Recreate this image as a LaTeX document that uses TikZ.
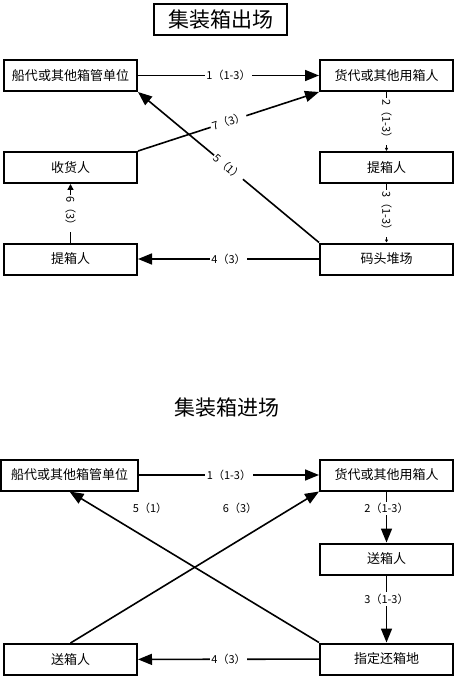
\documentclass[tikz,border=0pt]{standalone}
\usepackage{fontspec}
\setmainfont{Noto Sans CJK SC}
\usetikzlibrary{arrows.meta}

\begin{document}
\begin{tikzpicture}[x=1pt,y=-1pt,
  box/.style={rectangle, draw, line width=2pt,
              minimum width=133pt, minimum height=31pt,
              inner sep=0pt, font=\fontsize{13}{13}\selectfont},
  lbl/.style={fill=white, inner sep=1.5pt, font=\fontsize{11}{11}\selectfont},
  flow/.style={line width=1.6pt, -{Triangle[length=14pt,width=11pt]}},
  thinflow/.style={line width=0.8pt, -{Triangle[length=3pt,width=3pt]}}]
\useasboundingbox (0,0) rectangle (453,676);
\def\lx{70.5}
\def\rx{386.5}

% container leaving the yard
\node[box, font=\fontsize{21}{21}\selectfont] (title1) at (220.5,19.5) {集装箱出场};

\node[box] (ship1) at (\lx,75.5) {船代或其他箱管单位};
\node[box] (fwd1) at (\rx,75.5) {货代或其他用箱人};
\node[box] (recv1) at (\lx,167.5) {收货人};
\node[box] (pickR1) at (\rx,167.5) {提箱人};
\node[box] (pickL1) at (\lx,259) {提箱人};
\node[box] (yard1) at (\rx,259) {码头堆场};

\draw[flow] (ship1) -- node[lbl] {1（1-3）} (fwd1);
\draw[thinflow] (fwd1) -- node[lbl, sloped] {2（1-3）} (pickR1);
\draw[thinflow] (pickR1) -- node[lbl, sloped] {3（1-3）} (yard1);
\draw[flow] (yard1) -- node[lbl] {4（3）} (pickL1);
\draw[flow] (yard1.north west) -- node[lbl, sloped] {5（1）} (ship1.south east);
\draw[line width=1.6pt, -{Triangle[length=6pt,width=6pt]}] (pickL1) -- node[lbl, rotate=-90] {6（3）} (recv1);
\draw[flow] (recv1.north east) -- node[lbl, sloped] {7（3）} (fwd1.south west);

% container entering the yard
\node[font=\fontsize{21}{21}\selectfont] (title2) at (227,408) {集装箱进场};

\node[box, minimum width=137pt] (ship2) at (69.5,475) {船代或其他箱管单位};
\node[box] (fwd2) at (\rx,475) {货代或其他用箱人};
\node[box] (sendR2) at (\rx,559) {送箱人};
\node[box] (sendL2) at (\lx,659.5) {送箱人};
\node[box] (dest2) at (\rx,659) {指定还箱地};

\draw[flow] (ship2) -- node[lbl] {1（1-3）} (fwd2);
\draw[flow] (fwd2) -- node[lbl, pos=0.33] {2（1-3）} (sendR2);
\draw[flow] (sendR2) -- node[lbl, pos=0.35] {3（1-3）} (dest2);
\draw[flow] (dest2) -- node[lbl] {4（3）} (sendL2);
\draw[flow] (dest2.north west) -- (ship2.south);
\draw[flow] (sendL2.north) -- (fwd2.south west);
\node[lbl] (l5) at (150,508) {5（1）};
\node[lbl] (l6) at (240,508) {6（3）};
\end{tikzpicture}
\end{document}
